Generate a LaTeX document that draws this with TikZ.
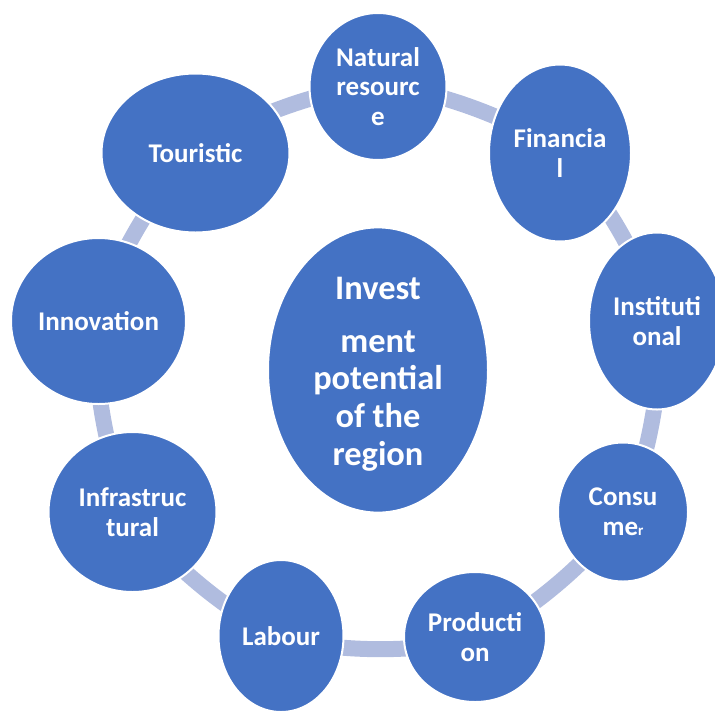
\documentclass[tikz,border=0pt]{standalone}
\usepackage{fontspec}
\setmainfont{Carlito}
\usetikzlibrary{shapes.geometric,backgrounds}
\definecolor{nodeblue}{HTML}{4472C4}
\definecolor{ringblue}{HTML}{B0BCDF}
\tikzset{
  bubble/.style={ellipse, fill=nodeblue, draw=white, line width=2pt, inner sep=0pt,
    text=white, align=center,
    font=\fontsize{27}{29.6}\selectfont\bfseries},
  ring/.style={draw=ringblue, line width=16pt, bend left=20, looseness=0.65},
}
\begin{document}
\begin{tikzpicture}[x=1pt,y=-1pt]
\useasboundingbox (0,0) rectangle (715,713);
\clip (0,0) rectangle (715,713);
\node[bubble, minimum width=137pt, minimum height=147pt] (nat) at (378,86.5) {Natural\\resourc\\e};
\node[bubble, minimum width=142pt, minimum height=177pt] (fin) at (560,153) {Financia\\l};
\node[bubble, minimum width=136pt, minimum height=177pt] (inst) at (657,321) {Instituti\\onal};
\node[bubble, minimum width=130pt, minimum height=139pt] (cons) at (623,512) {Consu\\me{\fontsize{15}{15}\selectfont r}};
\node[bubble, minimum width=142pt, minimum height=130pt] (prod) at (475,637) {Producti\\on};
\node[bubble, minimum width=125pt, minimum height=152pt] (lab) at (281,636) {Labour};
\node[bubble, minimum width=168pt, minimum height=160pt] (infra) at (132.5,512) {Infrastruc\\tural};
\node[bubble, minimum width=175pt, minimum height=166pt] (innov) at (98.5,321) {Innovation};
\node[bubble, minimum width=188pt, minimum height=159pt] (tour) at (195.5,153) {Touristic};
\node[bubble, minimum width=220pt, minimum height=256pt,
  font=\fontsize{34.4}{37.6}\selectfont\bfseries] (ctr) at (378,370)
  {\rule{0pt}{30pt}Invest\\[15.5pt]ment\\potential\\of the\\region};
\begin{scope}[on background layer]
\draw[ring] (nat.center) to (fin.center);
\draw[ring] (fin.center) to (inst.center);
\draw[ring] (inst.center) to (cons.center);
\draw[ring] (cons.center) to (prod.center);
\draw[ring] (prod.center) to (lab.center);
\draw[ring] (lab.center) to (infra.center);
\draw[ring] (infra.center) to (innov.center);
\draw[ring] (innov.center) to (tour.center);
\draw[ring] (tour.center) to (nat.center);
\end{scope}
\end{tikzpicture}
\end{document}
